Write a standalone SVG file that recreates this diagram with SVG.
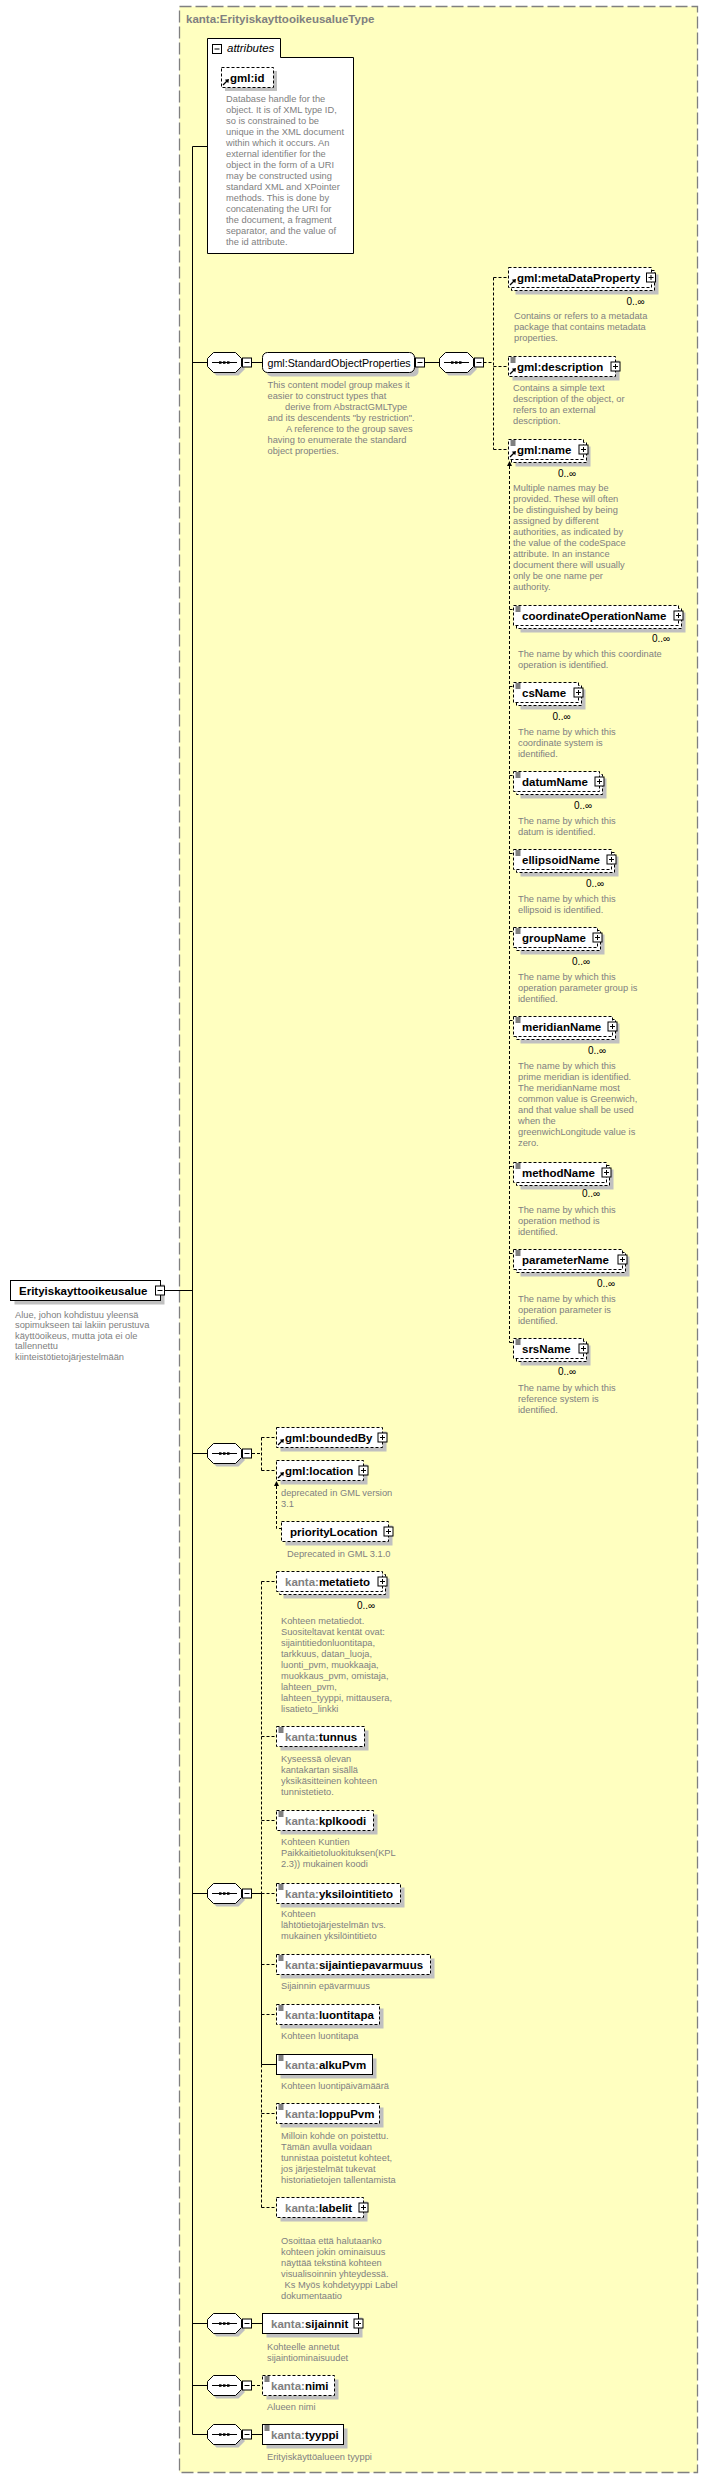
<svg xmlns="http://www.w3.org/2000/svg" width="709" height="2479" viewBox="0 0 709 2479">
<style>
.sh{fill:#c0c0c0}
.bx{fill:#fff;stroke:#000;stroke-width:1}
.d{stroke-dasharray:3 2}
.n{font:bold 11.5px "Liberation Sans",Arial,sans-serif;fill:#000}
.p{fill:#808080}
.t{font:9.3px "Liberation Sans",Arial,sans-serif;fill:#808080}
.m{font:10px "Liberation Sans",Arial,sans-serif;fill:#000}
.c{fill:none;stroke:#000;stroke-width:1}
.cd{fill:none;stroke:#000;stroke-width:1;stroke-dasharray:3 2}
</style>
<defs>
<g id="pl"><rect x="0.5" y="0.5" width="9" height="9" class="bx"/><path d="M2.5 5H7.5M5 2.5V7.5" stroke="#000"/></g>
<g id="mn"><rect x="0.5" y="0.5" width="9" height="9" class="bx"/><path d="M2.5 5H7.5" stroke="#000"/></g>
<g id="sq"><polygon class="sh" points="9.5,3.5 31.5,3.5 37.5,9.5 37.5,17.5 31.5,23.5 9.5,23.5 3.5,17.5 3.5,9.5"/><polygon class="bx" points="6.5,0.5 28.5,0.5 34.5,6.5 34.5,14.5 28.5,20.5 6.5,20.5 0.5,14.5 0.5,6.5"/><path d="M5 10.5H30" stroke="#000"/><rect x="12" y="9.3" width="2.5" height="2.5"/><rect x="16" y="9.3" width="2.5" height="2.5"/><rect x="20" y="9.3" width="2.5" height="2.5"/></g>
<g id="eq"><path d="M2 1.5H7M2 3.5H7M2 5.5H7" stroke="#000"/></g>
<g id="ar"><path d="M1.5 -2.5L5.5 -6.5" stroke="#000" stroke-width="1.3"/><path d="M7.5 -8.5L3.3 -7.8L6.8 -4.3Z" fill="#000"/></g>
<g id="up"><path d="M0 0L-2.5 5H2.5Z" fill="#000"/></g>
</defs>

<rect x="179.5" y="6.5" width="518" height="2466" fill="#ffffc0" stroke="#808080" stroke-width="1.3" stroke-dasharray="12 4"/>
<text x="186" y="23" style="font:bold 11.5px 'Liberation Sans',Arial,sans-serif;fill:#808080">kanta:ErityiskayttooikeusalueType</text>

<g id="connectors">
<path class="c" d="M192.5 146.5V2434.5M192.5 146.5H207.5M192.5 362.5H207.5M252 362.5H262.5M425 362.5H439.5M164 1290.5H192.5"/>
<path class="cd" d="M483.5 362.5H493.5M493.5 277.5V449.5M493.5 277.5H508.5M493.5 366.5H508.5M493.5 449.5H508.5"/>
<path class="cd" d="M509.5 466V1342.5M509.5 609.5H513.5M509.5 686.5H513.5M509.5 775.5H513.5M509.5 853.5H513.5M509.5 931.5H513.5M509.5 1020.5H513.5M509.5 1166.5H513.5M509.5 1253.5H513.5M509.5 1342.5H513.5"/>
<use href="#up" x="509.5" y="461"/>
<path class="c" d="M192.5 1453.5H207.5"/>
<path class="cd" d="M252 1453.5H261.5M261.5 1437.5V1470.5M261.5 1437.5H276.5M261.5 1470.5H276.5M276.5 1486V1528.5H281.5"/>
<use href="#up" x="276.5" y="1481"/>
<path class="c" d="M192.5 1893.5H207.5M252 1893.5H261.5M261.5 1893.5V2064.5M261.5 2064.5H276.5"/>
<path class="cd" d="M261.5 1581.5V1893.5M261.5 2064.5V2207.5M261.5 1581.5H276.5M261.5 1736.5H276.5M261.5 1820.5H276.5M261.5 1893.5H276.5M261.5 1964.5H276.5M261.5 2014.5H276.5M261.5 2113.5H276.5M261.5 2207.5H276.5"/>
<path class="c" d="M192.5 2323.5H207.5M252 2323.5H262.5M192.5 2385.5H207.5M192.5 2434.5H207.5M252 2434.5H262.5"/>
<path class="cd" d="M252 2385.5H262.5"/>
</g>

<g id="root">
<rect class="sh" x="14.5" y="1284.5" width="150" height="20"/>
<rect class="bx" x="10.5" y="1280.5" width="150" height="20"/>
<text class="n" x="19" y="1294.5">Erityiskayttooikeusalue</text>
<use href="#mn" x="155" y="1285.5"/>
<text class="t"><tspan x="15" y="1317.5">Alue, johon kohdistuu yleensä</tspan><tspan x="15" dy="10.6">sopimukseen tai lakiin perustuva</tspan><tspan x="15" dy="10.6">käyttöoikeus, mutta jota ei ole</tspan><tspan x="15" dy="10.6">tallennettu</tspan><tspan x="15" dy="10.6">kiinteistötietojärjestelmään</tspan></text>
</g>

<g id="attributes">
<path d="M207.5 38.5H280.5V57.5H353.5V253.5H207.5Z" fill="#fff" stroke="#000"/>
<use href="#mn" x="212" y="44"/>
<text x="227" y="52" style="font:italic 11.5px 'Liberation Sans',Arial,sans-serif;fill:#000">attributes</text>
</g>

<g id="gml-id">
<rect class="sh" x="225" y="71" width="52" height="20"/>
<rect class="bx d" x="221.5" y="67.5" width="52" height="20"/>
<use href="#ar" x="221.5" y="87.5"/>
<text class="n" x="230" y="81.5">gml:id</text>
<text class="t"><tspan x="226" y="101.5">Database handle for the</tspan><tspan x="226" dy="11">object.  It is of XML type ID,</tspan><tspan x="226" dy="11">so is constrained to be</tspan><tspan x="226" dy="11">unique in the XML document</tspan><tspan x="226" dy="11">within which it occurs.  An</tspan><tspan x="226" dy="11">external identifier for the</tspan><tspan x="226" dy="11">object in the form of a URI</tspan><tspan x="226" dy="11">may be constructed using</tspan><tspan x="226" dy="11">standard XML and XPointer</tspan><tspan x="226" dy="11">methods.  This is done by</tspan><tspan x="226" dy="11">concatenating the URI for</tspan><tspan x="226" dy="11">the document, a fragment</tspan><tspan x="226" dy="11">separator, and the value of</tspan><tspan x="226" dy="11">the id attribute.</tspan></text>
</g>

<g id="seq1"><use href="#sq" x="207" y="352"/><use href="#mn" x="242" y="357.5"/></g>

<g id="gml-StandardObjectProperties">
<rect class="sh" x="266.5" y="356.5" width="152" height="20" rx="5"/>
<rect class="bx" x="262.5" y="352.5" width="152" height="20" rx="5"/>
<text x="267.5" y="366.5" style="font:10.7px 'Liberation Sans',Arial,sans-serif;fill:#000">gml:StandardObjectProperties</text>
<use href="#mn" x="415" y="357.5"/>
<text class="t"><tspan x="267.5" y="388">This content model group makes it</tspan><tspan x="267.5" dy="11">easier to construct types that</tspan><tspan x="285" dy="11">derive from AbstractGMLType</tspan><tspan x="267.5" dy="11">and its descendents "by restriction".</tspan><tspan x="286" dy="11">A reference to the group saves</tspan><tspan x="267.5" dy="11">having to enumerate the standard</tspan><tspan x="267.5" dy="11">object properties.</tspan></text>
</g>

<g id="seq2"><use href="#sq" x="439" y="352"/><use href="#mn" x="474" y="357.5"/></g>

<g id="gml-metaDataProperty">
<rect class="sh" x="515.5" y="274.5" width="143" height="20"/>
<rect class="bx d" x="511.5" y="270.5" width="143" height="20"/>
<rect class="bx d" x="508.5" y="267.5" width="143" height="20"/>
<use href="#ar" x="508.5" y="287.5"/>
<text class="n" x="517" y="281.5">gml:metaDataProperty</text>
<use href="#pl" x="646" y="272.5"/>
<text class="m" x="626.5" y="304.5">0..∞</text>
<text class="t"><tspan x="514" y="319">Contains or refers to a metadata</tspan><tspan x="514" dy="11">package that contains metadata</tspan><tspan x="514" dy="11">properties.</tspan></text>
</g>

<g id="gml-description">
<rect class="sh" x="512.5" y="360.5" width="107" height="20"/>
<rect class="bx d" x="508.5" y="356.5" width="107" height="20"/>
<use href="#eq" x="508.5" y="356.5"/>
<use href="#ar" x="508.5" y="376.5"/>
<text class="n" x="517" y="370.5">gml:description</text>
<use href="#pl" x="610.5" y="361.5"/>
<text class="t"><tspan x="513" y="391">Contains a simple text</tspan><tspan x="513" dy="11">description of the object, or</tspan><tspan x="513" dy="11">refers to an external</tspan><tspan x="513" dy="11">description.</tspan></text>
</g>

<g id="gml-name">
<rect class="sh" x="515.5" y="446.5" width="75" height="20"/>
<rect class="bx d" x="511.5" y="442.5" width="75" height="20"/>
<rect class="bx d" x="508.5" y="439.5" width="75" height="20"/>
<use href="#eq" x="508.5" y="439.5"/>
<use href="#ar" x="508.5" y="459.5"/>
<text class="n" x="517" y="453.5">gml:name</text>
<use href="#pl" x="578.5" y="444.5"/>
<text class="m" x="558" y="476.5">0..∞</text>
<text class="t"><tspan x="513" y="491">Multiple names may be</tspan><tspan x="513" dy="11">provided.  These will often</tspan><tspan x="513" dy="11">be distinguished by being</tspan><tspan x="513" dy="11">assigned by different</tspan><tspan x="513" dy="11">authorities, as indicated by</tspan><tspan x="513" dy="11">the value of the codeSpace</tspan><tspan x="513" dy="11">attribute.  In an instance</tspan><tspan x="513" dy="11">document there will usually</tspan><tspan x="513" dy="11">only be one name per</tspan><tspan x="513" dy="11">authority.</tspan></text>
</g>

<g id="coordinateOperationName">
<rect class="sh" x="520.5" y="612.5" width="165" height="20"/>
<rect class="bx d" x="516.5" y="608.5" width="165" height="20"/>
<rect class="bx d" x="513.5" y="605.5" width="165" height="20"/>
<use href="#eq" x="513.5" y="605.5"/>
<text class="n" x="522" y="619.5">coordinateOperationName</text>
<use href="#pl" x="673.5" y="610.5"/>
<text class="m" x="652" y="642">0..∞</text>
<text class="t"><tspan x="518" y="657">The name by which this coordinate</tspan><tspan x="518" dy="11">operation is identified.</tspan></text>
</g>

<g id="csName">
<rect class="sh" x="520.5" y="689.5" width="65" height="20"/>
<rect class="bx d" x="516.5" y="685.5" width="65" height="20"/>
<rect class="bx d" x="513.5" y="682.5" width="65" height="20"/>
<use href="#eq" x="513.5" y="682.5"/>
<text class="n" x="522" y="696.5">csName</text>
<use href="#pl" x="573.5" y="687.5"/>
<text class="m" x="552.5" y="719.5">0..∞</text>
<text class="t"><tspan x="518" y="735">The name by which this</tspan><tspan x="518" dy="11">coordinate system is</tspan><tspan x="518" dy="11">identified.</tspan></text>
</g>

<g id="datumName">
<rect class="sh" x="520.5" y="778.5" width="86" height="20"/>
<rect class="bx d" x="516.5" y="774.5" width="86" height="20"/>
<rect class="bx d" x="513.5" y="771.5" width="86" height="20"/>
<use href="#eq" x="513.5" y="771.5"/>
<text class="n" x="522" y="785.5">datumName</text>
<use href="#pl" x="594.5" y="776.5"/>
<text class="m" x="574" y="808.5">0..∞</text>
<text class="t"><tspan x="518" y="824">The name by which this</tspan><tspan x="518" dy="11">datum is identified.</tspan></text>
</g>

<g id="ellipsoidName">
<rect class="sh" x="520.5" y="856.5" width="98" height="20"/>
<rect class="bx d" x="516.5" y="852.5" width="98" height="20"/>
<rect class="bx d" x="513.5" y="849.5" width="98" height="20"/>
<use href="#eq" x="513.5" y="849.5"/>
<text class="n" x="522" y="863.5">ellipsoidName</text>
<use href="#pl" x="606.5" y="854.5"/>
<text class="m" x="586" y="886.5">0..∞</text>
<text class="t"><tspan x="518" y="902">The name by which this</tspan><tspan x="518" dy="11">ellipsoid is identified.</tspan></text>
</g>

<g id="groupName">
<rect class="sh" x="520.5" y="934.5" width="84" height="20"/>
<rect class="bx d" x="516.5" y="930.5" width="84" height="20"/>
<rect class="bx d" x="513.5" y="927.5" width="84" height="20"/>
<use href="#eq" x="513.5" y="927.5"/>
<text class="n" x="522" y="941.5">groupName</text>
<use href="#pl" x="592.5" y="932.5"/>
<text class="m" x="572" y="964.5">0..∞</text>
<text class="t"><tspan x="518" y="980">The name by which this</tspan><tspan x="518" dy="11">operation parameter group is</tspan><tspan x="518" dy="11">identified.</tspan></text>
</g>

<g id="meridianName">
<rect class="sh" x="520.5" y="1023.5" width="99" height="20"/>
<rect class="bx d" x="516.5" y="1019.5" width="99" height="20"/>
<rect class="bx d" x="513.5" y="1016.5" width="99" height="20"/>
<use href="#eq" x="513.5" y="1016.5"/>
<text class="n" x="522" y="1030.5">meridianName</text>
<use href="#pl" x="607.5" y="1021.5"/>
<text class="m" x="588" y="1053.5">0..∞</text>
<text class="t"><tspan x="518" y="1069">The name by which this</tspan><tspan x="518" dy="11">prime meridian is identified.</tspan><tspan x="518" dy="11">The meridianName most</tspan><tspan x="518" dy="11">common value is Greenwich,</tspan><tspan x="518" dy="11">and that value shall be used</tspan><tspan x="518" dy="11">when the</tspan><tspan x="518" dy="11">greenwichLongitude value is</tspan><tspan x="518" dy="11">zero.</tspan></text>
</g>

<g id="methodName">
<rect class="sh" x="520.5" y="1169.5" width="93" height="20"/>
<rect class="bx d" x="516.5" y="1165.5" width="93" height="20"/>
<rect class="bx d" x="513.5" y="1162.5" width="93" height="20"/>
<use href="#eq" x="513.5" y="1162.5"/>
<text class="n" x="522" y="1176.5">methodName</text>
<use href="#pl" x="601.5" y="1167.5"/>
<text class="m" x="582" y="1197">0..∞</text>
<text class="t"><tspan x="518" y="1213">The name by which this</tspan><tspan x="518" dy="11">operation method is</tspan><tspan x="518" dy="11">identified.</tspan></text>
</g>

<g id="parameterName">
<rect class="sh" x="520.5" y="1256.5" width="109" height="20"/>
<rect class="bx d" x="516.5" y="1252.5" width="109" height="20"/>
<rect class="bx d" x="513.5" y="1249.5" width="109" height="20"/>
<use href="#eq" x="513.5" y="1249.5"/>
<text class="n" x="522" y="1263.5">parameterName</text>
<use href="#pl" x="617.5" y="1254.5"/>
<text class="m" x="597" y="1286.5">0..∞</text>
<text class="t"><tspan x="518" y="1302">The name by which this</tspan><tspan x="518" dy="11">operation parameter is</tspan><tspan x="518" dy="11">identified.</tspan></text>
</g>

<g id="srsName">
<rect class="sh" x="520.5" y="1345.5" width="70" height="20"/>
<rect class="bx d" x="516.5" y="1341.5" width="70" height="20"/>
<rect class="bx d" x="513.5" y="1338.5" width="70" height="20"/>
<use href="#eq" x="513.5" y="1338.5"/>
<text class="n" x="522" y="1352.5">srsName</text>
<use href="#pl" x="578.5" y="1343.5"/>
<text class="m" x="558" y="1375">0..∞</text>
<text class="t"><tspan x="518" y="1391">The name by which this</tspan><tspan x="518" dy="11">reference system is</tspan><tspan x="518" dy="11">identified.</tspan></text>
</g>

<g id="seqB"><use href="#sq" x="207" y="1443"/><use href="#mn" x="242" y="1448.5"/></g>

<g id="gml-boundedBy">
<rect class="sh" x="280.5" y="1431.5" width="106" height="20"/>
<rect class="bx d" x="276.5" y="1427.5" width="106" height="20"/>
<use href="#ar" x="276.5" y="1447.5"/>
<text class="n" x="285" y="1441.5">gml:boundedBy</text>
<use href="#pl" x="377.5" y="1432.5"/>
</g>

<g id="gml-location">
<rect class="sh" x="280.5" y="1464.5" width="87" height="20"/>
<rect class="bx d" x="276.5" y="1460.5" width="87" height="20"/>
<use href="#ar" x="276.5" y="1480.5"/>
<text class="n" x="285" y="1474.5">gml:location</text>
<use href="#pl" x="358.5" y="1465.5"/>
<text class="t"><tspan x="281" y="1495.5">deprecated in GML version</tspan><tspan x="281" dy="11">3.1</tspan></text>
</g>

<g id="priorityLocation">
<rect class="sh" x="285.5" y="1525.5" width="107" height="20"/>
<rect class="bx d" x="281.5" y="1521.5" width="107" height="20"/>
<text class="n" x="290" y="1535.5">priorityLocation</text>
<use href="#pl" x="383.5" y="1526.5"/>
<text class="t" x="287" y="1557">Deprecated in GML 3.1.0</text>
</g>

<g id="seqC"><use href="#sq" x="207" y="1883"/><use href="#mn" x="242" y="1888.5"/></g>

<g id="kanta-metatieto">
<rect class="sh" x="283.5" y="1578.5" width="106" height="20"/>
<rect class="bx d" x="279.5" y="1574.5" width="106" height="20"/>
<rect class="bx d" x="276.5" y="1571.5" width="106" height="20"/>
<text class="n" x="285" y="1585.5"><tspan class="p">kanta:</tspan>metatieto</text>
<use href="#pl" x="377.5" y="1576.5"/>
<text class="m" x="357" y="1608.5">0..∞</text>
<text class="t"><tspan x="281" y="1624">Kohteen metatiedot.</tspan><tspan x="281" dy="11">Suositeltavat kentät ovat:</tspan><tspan x="281" dy="11">sijaintitiedonluontitapa,</tspan><tspan x="281" dy="11">tarkkuus, datan_luoja,</tspan><tspan x="281" dy="11">luonti_pvm, muokkaaja,</tspan><tspan x="281" dy="11">muokkaus_pvm, omistaja,</tspan><tspan x="281" dy="11">lahteen_pvm,</tspan><tspan x="281" dy="11">lahteen_tyyppi, mittausera,</tspan><tspan x="281" dy="11">lisatieto_linkki</tspan></text>
</g>

<g id="kanta-tunnus">
<rect class="sh" x="280.5" y="1730.5" width="88" height="20"/>
<rect class="bx d" x="276.5" y="1726.5" width="88" height="20"/>
<use href="#eq" x="276.5" y="1726.5"/>
<text class="n" x="285" y="1740.5"><tspan class="p">kanta:</tspan>tunnus</text>
<text class="t"><tspan x="281" y="1761.5">Kyseessä olevan</tspan><tspan x="281" dy="11">kantakartan sisällä</tspan><tspan x="281" dy="11">yksikäsitteinen kohteen</tspan><tspan x="281" dy="11">tunnistetieto.</tspan></text>
</g>

<g id="kanta-kplkoodi">
<rect class="sh" x="280.5" y="1814.5" width="97" height="20"/>
<rect class="bx d" x="276.5" y="1810.5" width="97" height="20"/>
<use href="#eq" x="276.5" y="1810.5"/>
<text class="n" x="285" y="1824.5"><tspan class="p">kanta:</tspan>kplkoodi</text>
<text class="t"><tspan x="281" y="1845">Kohteen Kuntien</tspan><tspan x="281" dy="11">Paikkaitietoluokituksen(KPL</tspan><tspan x="281" dy="11">2.3)) mukainen koodi</tspan></text>
</g>

<g id="kanta-yksilointitieto">
<rect class="sh" x="280.5" y="1887.5" width="124" height="20"/>
<rect class="bx d" x="276.5" y="1883.5" width="124" height="20"/>
<use href="#eq" x="276.5" y="1883.5"/>
<text class="n" x="285" y="1897.5"><tspan class="p">kanta:</tspan>yksilointitieto</text>
<text class="t"><tspan x="281" y="1916.5">Kohteen</tspan><tspan x="281" dy="11">lähtötietojärjestelmän  tvs.</tspan><tspan x="281" dy="11">mukainen yksilöintitieto</tspan></text>
</g>

<g id="kanta-sijaintiepavarmuus">
<rect class="sh" x="280.5" y="1958.5" width="154" height="20"/>
<rect class="bx d" x="276.5" y="1954.5" width="154" height="20"/>
<use href="#eq" x="276.5" y="1954.5"/>
<text class="n" x="285" y="1968.5"><tspan class="p">kanta:</tspan>sijaintiepavarmuus</text>
<text class="t" x="281" y="1989">Sijainnin epävarmuus</text>
</g>

<g id="kanta-luontitapa">
<rect class="sh" x="280.5" y="2008.5" width="103" height="20"/>
<rect class="bx d" x="276.5" y="2004.5" width="103" height="20"/>
<use href="#eq" x="276.5" y="2004.5"/>
<text class="n" x="285" y="2018.5"><tspan class="p">kanta:</tspan>luontitapa</text>
<text class="t" x="281" y="2038.5">Kohteen luontitapa</text>
</g>

<g id="kanta-alkuPvm">
<rect class="sh" x="280.5" y="2058.5" width="96" height="20"/>
<rect class="bx" x="276.5" y="2054.5" width="96" height="20"/>
<use href="#eq" x="276.5" y="2054.5"/>
<text class="n" x="285" y="2068.5"><tspan class="p">kanta:</tspan>alkuPvm</text>
<text class="t" x="281" y="2088.5">Kohteen luontipäivämäärä</text>
</g>

<g id="kanta-loppuPvm">
<rect class="sh" x="280.5" y="2107.5" width="103" height="20"/>
<rect class="bx d" x="276.5" y="2103.5" width="103" height="20"/>
<use href="#eq" x="276.5" y="2103.5"/>
<text class="n" x="285" y="2117.5"><tspan class="p">kanta:</tspan>loppuPvm</text>
<text class="t"><tspan x="281" y="2139">Milloin kohde on poistettu.</tspan><tspan x="281" dy="11">Tämän avulla voidaan</tspan><tspan x="281" dy="11">tunnistaa poistetut kohteet,</tspan><tspan x="281" dy="11">jos järjestelmät tukevat</tspan><tspan x="281" dy="11">historiatietojen tallentamista</tspan></text>
</g>

<g id="kanta-labelit">
<rect class="sh" x="280.5" y="2201.5" width="87" height="20"/>
<rect class="bx d" x="276.5" y="2197.5" width="87" height="20"/>
<text class="n" x="285" y="2211.5"><tspan class="p">kanta:</tspan>labelit</text>
<use href="#pl" x="358.5" y="2202.5"/>
<text class="t"><tspan x="281" y="2244">Osoittaa että halutaanko</tspan><tspan x="281" dy="11">kohteen jokin ominaisuus</tspan><tspan x="281" dy="11">näyttää tekstinä kohteen</tspan><tspan x="281" dy="11">visualisoinnin yhteydessä.</tspan><tspan x="284.5" dy="11">Ks Myös kohdetyyppi Label</tspan><tspan x="281" dy="11">dokumentaatio</tspan></text>
</g>

<g id="seqD"><use href="#sq" x="207" y="2313"/><use href="#mn" x="242" y="2318.5"/></g>
<g id="kanta-sijainnit">
<rect class="sh" x="266.5" y="2317.5" width="96" height="20"/>
<rect class="bx" x="262.5" y="2313.5" width="96" height="20"/>
<text class="n" x="271" y="2327.5"><tspan class="p">kanta:</tspan>sijainnit</text>
<use href="#pl" x="353.5" y="2318.5"/>
<text class="t"><tspan x="267" y="2349.5">Kohteelle annetut</tspan><tspan x="267" dy="11">sijaintiominaisuudet</tspan></text>
</g>

<g id="seqE"><use href="#sq" x="207" y="2375"/><use href="#mn" x="242" y="2380.5"/></g>
<g id="kanta-nimi">
<rect class="sh" x="266.5" y="2379.5" width="72" height="20"/>
<rect class="bx d" x="262.5" y="2375.5" width="72" height="20"/>
<use href="#eq" x="262.5" y="2375.5"/>
<text class="n" x="271" y="2389.5"><tspan class="p">kanta:</tspan>nimi</text>
<text class="t" x="267" y="2410">Alueen nimi</text>
</g>

<g id="seqF"><use href="#sq" x="207" y="2424"/><use href="#mn" x="242" y="2429.5"/></g>
<g id="kanta-tyyppi">
<rect class="sh" x="266.5" y="2428.5" width="81" height="20"/>
<rect class="bx" x="262.5" y="2424.5" width="81" height="20"/>
<use href="#eq" x="262.5" y="2424.5"/>
<text class="n" x="271" y="2438.5"><tspan class="p">kanta:</tspan>tyyppi</text>
<text class="t" x="267" y="2460">Erityiskäyttöalueen tyyppi</text>
</g>
</svg>
